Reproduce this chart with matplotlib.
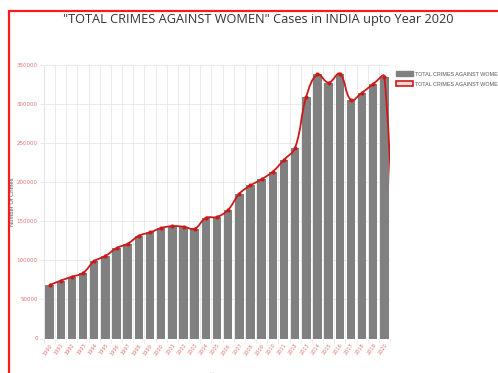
import numpy as np
import matplotlib
matplotlib.use("Agg")
import matplotlib.pyplot as plt
from matplotlib.path import Path
from matplotlib.patches import PathPatch, Rectangle, Patch

# Yearly reported cases of total crimes against women in India
years = [str(y) for y in range(1990, 2021)]
cases = [68317, 74093, 79037, 83954, 98948, 105600, 115723, 121265, 131475, 135771,
         141373, 143795, 143034, 140601, 154333, 155553, 164765, 185312, 195856, 203804,
         213585, 228650, 244270, 309546, 337922, 327394, 338954, 305300, 314600, 325700,
         335100]
# trend series carries one trailing empty entry past the last year
trend = cases + [0]
y_ticks = [0, 50000, 100000, 150000, 200000, 250000, 300000, 350000]
series_name = "TOTAL CRIMES AGAINST WOMEN"

W, H = 498, 373
fig = plt.figure(figsize=(W / 100, H / 100), dpi=100)
ax = fig.add_axes([44 / W, 34.5 / H, 346 / W, 273.5 / H])

grid_c = "#e6e6e6"
tick_c = "#e57373"
bar_c = "#808080"
line_c = "#cc1a1a"

x = np.arange(len(years))
ax.bar(x, cases, width=0.76, color=bar_c, zorder=2)

ax.set_xlim(-0.5, len(years) - 0.5)
ax.set_ylim(0, 350000)


def smooth_path(xs, ys, tension=0.4):
    """Cubic bezier path through the points, control points built in display space."""
    pts = ax.transData.transform(np.column_stack([xs, ys]))
    n = len(pts)
    cps_prev = np.zeros_like(pts)
    cps_next = np.zeros_like(pts)
    for i in range(n):
        p1 = pts[i]
        p0 = pts[i - 1] if i > 0 else p1
        p2 = pts[i + 1] if i < n - 1 else p1
        d01 = np.hypot(*(p1 - p0))
        d12 = np.hypot(*(p2 - p1))
        tot = d01 + d12 if d01 + d12 > 0 else 1.0
        fa = tension * d01 / tot
        fb = tension * d12 / tot
        cps_prev[i] = p1 - fa * (p2 - p0)
        cps_next[i] = p1 + fb * (p2 - p0)
    verts = [pts[0]]
    codes = [Path.MOVETO]
    for i in range(n - 1):
        verts += [cps_next[i], cps_prev[i + 1], pts[i + 1]]
        codes += [Path.CURVE4] * 3
    inv = ax.transData.inverted()
    return Path(inv.transform(np.array(verts)), codes)


tx = np.arange(len(trend))
path = smooth_path(tx, trend)
ax.add_patch(PathPatch(path, facecolor="none", edgecolor=line_c, lw=1.3, zorder=3,
                       clip_on=True))
ax.plot(x, cases, linestyle="none", marker="o", ms=2.0, color=line_c, zorder=4)

# axes styling
for s in ax.spines.values():
    s.set_visible(False)
ax.set_yticks(y_ticks)
ax.set_yticklabels([str(v) for v in y_ticks])
ax.set_xticks(x)
ax.set_xticklabels(years)
ax.set_xticks(np.arange(-0.5, len(years), 1), minor=True)
ax.grid(True, axis="y", color=grid_c, lw=0.6, zorder=0)
ax.grid(True, axis="x", which="minor", color=grid_c, lw=0.6, zorder=0)
ax.tick_params(axis="y", length=3, color=grid_c, width=0.6, labelsize=4,
               labelcolor=tick_c, pad=1.5)
ax.tick_params(axis="x", which="major", length=0, labelsize=3.6, labelcolor=tick_c,
               pad=3)
ax.tick_params(axis="x", which="minor", length=3, color=grid_c, width=0.6)
for lab in ax.get_xticklabels():
    lab.set_rotation(55)
    lab.set_ha("right")
    lab.set_va("top")
    lab.set_rotation_mode("anchor")
ax.axhline(0, color="#d8d8d8", lw=0.6, zorder=1)
ax.axvline(-0.5, color="#d8d8d8", lw=0.6, zorder=1)

ax.set_ylabel("Number Of Crimes", fontsize=4.2, color="#555555", labelpad=1.5,
              family="Liberation Sans")
fig.text(217 / W, 1 - 375 / H, "Year", fontsize=4.5, color="#cccccc",
         ha="center", va="center")

# legend
handles = [Patch(facecolor=bar_c, edgecolor=bar_c),
           Patch(facecolor="#f3d6d6", edgecolor=line_c, lw=1.2)]
leg = ax.legend(handles, [series_name, series_name], loc="upper left",
                bbox_to_anchor=(1.01, 0.985), frameon=False, handlelength=3.2,
                handleheight=1.0, handletextpad=0.4, labelspacing=0.9,
                borderaxespad=0, prop={"family": "Liberation Sans", "size": 3.9})
for t in leg.get_texts():
    t.set_color("#555555")

fig.suptitle('"TOTAL CRIMES AGAINST WOMEN" Cases in INDIA upto Year 2020',
             x=258 / W, y=1 - 20 / H, va="center", fontsize=9.2,
             color="#333333", family="Open Sans")

# red frame around the chart
fig.add_artist(Rectangle((9 / W, -0.1), 1.2, 1 - 11 / H + 0.1, transform=fig.transFigure,
                         facecolor="none", edgecolor="#ff1a1a", lw=1.6))

fig.savefig("out.png", dpi=100)
